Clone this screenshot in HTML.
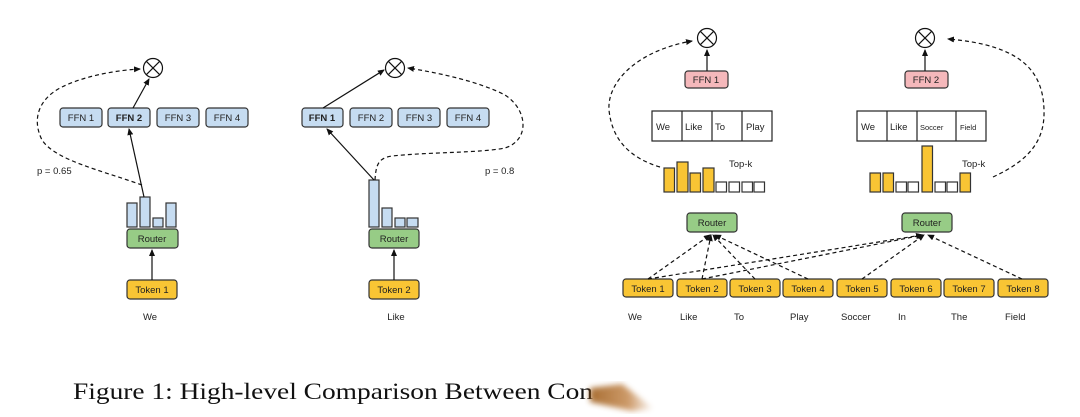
<!DOCTYPE html>
<html><head><meta charset="utf-8">
<style>
html,body{margin:0;padding:0;background:#fff;}
svg{display:block;}
text{font-family:"Liberation Sans",sans-serif;fill:#222;}
</style></head>
<body>
<svg width="1080" height="417" viewBox="0 0 1080 417" xmlns="http://www.w3.org/2000/svg">
<defs>
<marker id="a" markerWidth="8" markerHeight="8" refX="6" refY="3" orient="auto" markerUnits="userSpaceOnUse">
<path d="M0,0 L7,3 L0,6 z" fill="#111"/></marker>
<filter id="bl"><feGaussianBlur stdDeviation="3"/></filter>
<linearGradient id="br" x1="0" y1="0" x2="1" y2="0">
<stop offset="0" stop-color="#a0601e"/><stop offset="0.6" stop-color="#c8905a"/><stop offset="1" stop-color="#fff"/></linearGradient>
</defs>
<g stroke="#333" stroke-width="1.2">
<circle cx="153" cy="68" r="9.5" fill="#fff" stroke="#111"/>
<path d="M146.3,61.3 L159.7,74.7 M159.7,61.3 L146.3,74.7" stroke="#111"/>
<rect x="60" y="108" width="42" height="19" rx="3" fill="#c6dcf1"/>
<rect x="108" y="108" width="42" height="19" rx="3" fill="#c6dcf1"/>
<rect x="157" y="108" width="42" height="19" rx="3" fill="#c6dcf1"/>
<rect x="206" y="108" width="42" height="19" rx="3" fill="#c6dcf1"/>
<rect x="127" y="203" width="10" height="24" fill="#c6dcf1"/>
<rect x="140" y="197" width="10" height="30" fill="#c6dcf1"/>
<rect x="153" y="218" width="10" height="9" fill="#c6dcf1"/>
<rect x="166" y="203" width="10" height="24" fill="#c6dcf1"/>
<rect x="127" y="229" width="51" height="19" rx="3" fill="#97cc86"/>
<rect x="127" y="280" width="50" height="19" rx="3" fill="#f9c534"/>
<line x1="152" y1="280" x2="152" y2="250" stroke="#111" marker-end="url(#a)"/>
<line x1="144" y1="197" x2="129" y2="129" stroke="#111" marker-end="url(#a)"/>
<line x1="133" y1="108" x2="149" y2="79" stroke="#111" marker-end="url(#a)"/>
<path d="M142,185 C100,170 55,160 42,140 C32,120 38,100 60,88 C85,75 120,70 140,69" fill="none" stroke="#111" stroke-dasharray="4,3" marker-end="url(#a)"/>
<circle cx="395" cy="68" r="9.5" fill="#fff" stroke="#111"/>
<path d="M388.3,61.3 L401.7,74.7 M401.7,61.3 L388.3,74.7" stroke="#111"/>
<rect x="302" y="108" width="41" height="19" rx="3" fill="#c6dcf1"/>
<rect x="350" y="108" width="42" height="19" rx="3" fill="#c6dcf1"/>
<rect x="398" y="108" width="42" height="19" rx="3" fill="#c6dcf1"/>
<rect x="447" y="108" width="42" height="19" rx="3" fill="#c6dcf1"/>
<rect x="369" y="180" width="10" height="47" fill="#c6dcf1"/>
<rect x="382" y="208" width="10" height="19" fill="#c6dcf1"/>
<rect x="395" y="218" width="10" height="9" fill="#c6dcf1"/>
<rect x="407" y="218" width="11" height="9" fill="#c6dcf1"/>
<rect x="369" y="229" width="50" height="19" rx="3" fill="#97cc86"/>
<rect x="369" y="280" width="50" height="19" rx="3" fill="#f9c534"/>
<line x1="394" y1="280" x2="394" y2="250" stroke="#111" marker-end="url(#a)"/>
<line x1="374" y1="180" x2="327" y2="129" stroke="#111" marker-end="url(#a)"/>
<line x1="323" y1="108" x2="384" y2="70" stroke="#111" marker-end="url(#a)"/>
<path d="M375,180 C376,165 378,158 392,156 C430,152 480,153 505,148 C530,140 528,110 505,95 C480,82 440,73 408,68" fill="none" stroke="#111" stroke-dasharray="4,3" marker-end="url(#a)"/>
<circle cx="707" cy="38" r="9.5" fill="#fff" stroke="#111"/>
<path d="M700.3,31.3 L713.7,44.7 M713.7,31.3 L700.3,44.7" stroke="#111"/>
<circle cx="925" cy="38" r="9.5" fill="#fff" stroke="#111"/>
<path d="M918.3,31.3 L931.7,44.7 M931.7,31.3 L918.3,44.7" stroke="#111"/>
<rect x="685" y="71" width="43" height="17" rx="3" fill="#f5b8bb"/>
<rect x="905" y="71" width="43" height="17" rx="3" fill="#f5b8bb"/>
<line x1="707" y1="71" x2="707" y2="50" stroke="#111" marker-end="url(#a)"/>
<line x1="925" y1="71" x2="925" y2="50" stroke="#111" marker-end="url(#a)"/>
<rect x="652" y="111" width="120" height="30" fill="#fff" stroke="#222"/>
<path d="M682,111 V141 M712,111 V141 M742,111 V141" stroke="#222"/>
<rect x="857" y="111" width="129" height="30" fill="#fff" stroke="#222"/>
<path d="M887,111 V141 M917,111 V141 M956,111 V141" stroke="#222"/>
<g fill="#f9c534">
<rect x="664" y="168" width="10.5" height="24"/>
<rect x="677" y="162" width="11" height="30"/>
<rect x="690" y="173" width="10.5" height="19"/>
<rect x="703" y="168" width="11" height="24"/>
<rect x="870" y="173" width="10.5" height="19"/>
<rect x="883" y="173" width="10.5" height="19"/>
<rect x="922" y="146" width="10.5" height="46"/>
<rect x="960" y="173" width="10.5" height="19"/>
</g>
<g fill="#fff">
<rect x="716" y="182" width="10.5" height="10"/>
<rect x="729" y="182" width="10.5" height="10"/>
<rect x="742" y="182" width="10.5" height="10"/>
<rect x="754" y="182" width="10.5" height="10"/>
<rect x="896" y="182" width="10.5" height="10"/>
<rect x="908" y="182" width="10.5" height="10"/>
<rect x="935" y="182" width="10.5" height="10"/>
<rect x="947" y="182" width="10.5" height="10"/>
</g>
<rect x="687" y="213" width="50" height="19" rx="3" fill="#97cc86"/>
<rect x="902" y="213" width="50" height="19" rx="3" fill="#97cc86"/>
<g fill="#f9c534">
<rect x="623" y="279" width="50" height="18" rx="3"/>
<rect x="677" y="279" width="50" height="18" rx="3"/>
<rect x="730" y="279" width="50" height="18" rx="3"/>
<rect x="783" y="279" width="50" height="18" rx="3"/>
<rect x="837" y="279" width="50" height="18" rx="3"/>
<rect x="891" y="279" width="50" height="18" rx="3"/>
<rect x="944" y="279" width="50" height="18" rx="3"/>
<rect x="998" y="279" width="50" height="18" rx="3"/>
</g>
<g stroke="#111" stroke-dasharray="4,3" fill="none" marker-end="url(#a)">
<line x1="648" y1="279" x2="710" y2="235"/>
<line x1="702" y1="279" x2="711" y2="235"/>
<line x1="755" y1="279" x2="713" y2="235"/>
<line x1="808" y1="279" x2="715" y2="235"/>
<line x1="648" y1="279" x2="922" y2="235"/>
<line x1="702" y1="279" x2="923" y2="235"/>
<line x1="862" y1="279" x2="924" y2="235"/>
<line x1="1022" y1="279" x2="928" y2="235"/>
<path d="M660,167 C630,158 612,140 609,110 C607,80 640,50 692,41"/>
<path d="M993,177 C1030,160 1045,140 1044,110 C1043,70 1020,45 948,39"/>
</g>
</g>
<g font-size="9.5" text-anchor="middle">
<text x="81" y="121">FFN 1</text>
<text x="129" y="121" font-weight="bold">FFN 2</text>
<text x="178" y="121">FFN 3</text>
<text x="227" y="121">FFN 4</text>
<text x="322" y="121" font-weight="bold">FFN 1</text>
<text x="371" y="121">FFN 2</text>
<text x="419" y="121">FFN 3</text>
<text x="468" y="121">FFN 4</text>
<text x="152" y="242">Router</text>
<text x="152" y="293">Token 1</text>
<text x="394" y="242">Router</text>
<text x="394" y="293">Token 2</text>
<text x="150" y="320">We</text>
<text x="396" y="320">Like</text>
<text x="706" y="83">FFN 1</text>
<text x="926" y="83">FFN 2</text>
<text x="712" y="226">Router</text>
<text x="927" y="226">Router</text>
<text x="648" y="292">Token 1</text>
<text x="702" y="292">Token 2</text>
<text x="755" y="292">Token 3</text>
<text x="808" y="292">Token 4</text>
<text x="862" y="292">Token 5</text>
<text x="916" y="292">Token 6</text>
<text x="969" y="292">Token 7</text>
<text x="1023" y="292">Token 8</text>
</g>
<g font-size="9.5">
<text x="37" y="174">p = 0.65</text>
<text x="485" y="174">p = 0.8</text>
<text x="729" y="167">Top-k</text>
<text x="962" y="167">Top-k</text>
<text x="656" y="130">We</text>
<text x="685" y="130">Like</text>
<text x="715" y="130">To</text>
<text x="746" y="130">Play</text>
<text x="861" y="130">We</text>
<text x="890" y="130">Like</text>
<text x="920" y="130" font-size="7.5">Soccer</text>
<text x="960" y="130" font-size="7.5">Field</text>
<text x="628" y="320">We</text>
<text x="680" y="320">Like</text>
<text x="734" y="320">To</text>
<text x="790" y="320">Play</text>
<text x="841" y="320">Soccer</text>
<text x="898" y="320">In</text>
<text x="951" y="320">The</text>
<text x="1005" y="320">Field</text>
</g>
<text x="73" y="399" textLength="520" lengthAdjust="spacingAndGlyphs" style="font-family:'Liberation Serif',serif;font-size:23px;fill:#111">Figure 1: High-level Comparison Between Con</text>
<polygon points="590,388 622,384 654,409 632,411 590,402" fill="url(#br)" filter="url(#bl)" opacity="0.9"/>
</svg>
</body></html>
